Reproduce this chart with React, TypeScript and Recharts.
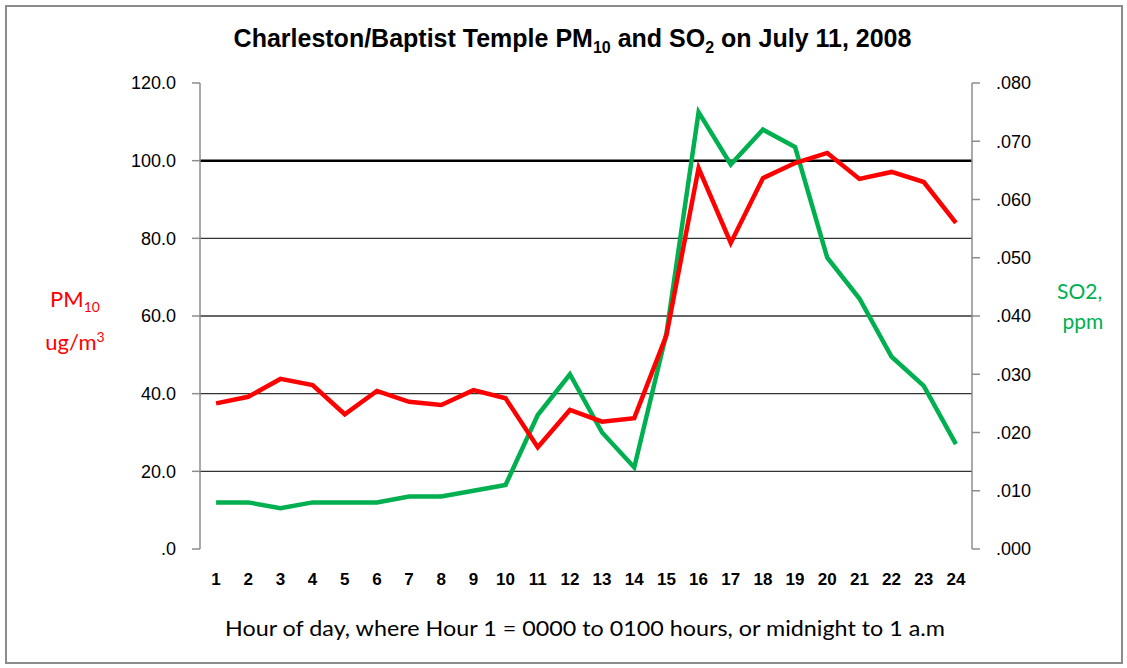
import React from "react";
import { LineChart, Line, XAxis, YAxis, ReferenceLine } from "recharts";

const hours = [1, 2, 3, 4, 5, 6, 7, 8, 9, 10, 11, 12, 13, 14, 15, 16, 17, 18, 19, 20, 21, 22, 23, 24];
const pm10 = [37.5, 39.2, 43.8, 42.2, 34.7, 40.7, 37.9, 37.1, 40.9, 38.8, 26.2, 35.8, 32.8, 33.7, 55.0, 98.1, 78.8, 95.5, 99.4, 102.0, 95.3, 97.1, 94.5, 84.0];
const so2 = [0.008, 0.008, 0.007, 0.008, 0.008, 0.008, 0.009, 0.009, 0.010, 0.011, 0.023, 0.030, 0.020, 0.014, 0.037, 0.075, 0.066, 0.072, 0.069, 0.050, 0.043, 0.033, 0.028, 0.018];
const pmTicks = [0, 20, 40, 60, 80, 100, 120];
const so2Ticks = [0, 0.01, 0.02, 0.03, 0.04, 0.05, 0.06, 0.07, 0.08];
const gridValues = [20, 40, 60, 80];
const boundaries = [0.5, 1.5, 2.5, 3.5, 4.5, 5.5, 6.5, 7.5, 8.5, 9.5, 10.5, 11.5, 12.5, 13.5, 14.5, 15.5, 16.5, 17.5, 18.5, 19.5, 20.5, 21.5, 22.5, 23.5, 24.5];

const data = hours.map((h, i) => ({ hour: h, pm10: pm10[i], so2: so2[i] }));

const fmtPm = (v: number) => v.toFixed(1).replace(/^0\./, ".");
const fmtSo2 = (v: number) => v.toFixed(3).replace(/^0\./, ".");

const tickFont = { fontFamily: "Liberation Sans, Arial, sans-serif", fontSize: 18, fill: "#000" };
const calibri = "Lato, 'Open Sans', sans-serif";

export default function App() {
  return (
    <div style={{ position: "absolute", left: 0, top: 0, width: 1127, height: 668, background: "#fff" }}>
      <div style={{ position: "absolute", left: 5, top: 5, width: 1114, height: 655, border: "2px solid #8c8c8c" }} />
      <div style={{ position: "absolute", left: 0, top: 0 }}>
        <LineChart width={1127} height={668} data={data} margin={{ top: 83, right: 0, bottom: 0, left: 0 }}>
          <XAxis
            xAxisId="b"
            type="number"
            dataKey="hour"
            domain={[0.5, 24.5]}
            ticks={boundaries}
            height={0}
            tick={false}
            tickSize={7}
            stroke="#8c8c8c"
            strokeWidth={1.5}
          />
          <XAxis
            xAxisId="h"
            type="number"
            dataKey="hour"
            domain={[0.5, 24.5]}
            ticks={hours}
            interval={0}
            height={119}
            axisLine={false}
            tickLine={false}
            tickSize={0}
            tickMargin={24}
            tick={{ ...tickFont, fontWeight: "bold", fontSize: 17 }}
          />
          <YAxis
            yAxisId="pm"
            orientation="left"
            width={200}
            domain={[0, 120]}
            ticks={pmTicks}
            tickFormatter={fmtPm}
            tickSize={8}
            tickMargin={16}
            stroke="#8c8c8c"
            strokeWidth={1.5}
            tick={tickFont}
          />
          <YAxis
            yAxisId="so2"
            orientation="right"
            width={155}
            domain={[0, 0.08]}
            ticks={so2Ticks}
            tickFormatter={fmtSo2}
            tickSize={8}
            tickMargin={16}
            stroke="#8c8c8c"
            strokeWidth={1.5}
            tick={{ ...tickFont, textAnchor: "start" }}
          />
          {gridValues.map((g) => (
            <ReferenceLine key={g} xAxisId="h" yAxisId="pm" y={g} stroke="#333" strokeWidth={1.4} />
          ))}
          <ReferenceLine xAxisId="h" yAxisId="pm" y={100} stroke="#000" strokeWidth={2.5} />
          <Line xAxisId="h" yAxisId="so2" type="linear" dataKey="so2" stroke="#00B050" strokeWidth={4.5} dot={false} isAnimationActive={false} />
          <Line xAxisId="h" yAxisId="pm" type="linear" dataKey="pm10" stroke="#FF0000" strokeWidth={4.5} dot={false} isAnimationActive={false} />
        </LineChart>
      </div>
      <div
        style={{
          position: "absolute",
          left: 0,
          width: 1145,
          top: 24,
          textAlign: "center",
          fontFamily: "Liberation Sans, Arial, sans-serif",
          fontWeight: "bold",
          fontSize: 25,
          color: "#000",
          whiteSpace: "nowrap",
        }}
      >
        Charleston/Baptist Temple PM<sub style={{ fontSize: 16 }}>10</sub> and SO<sub style={{ fontSize: 16 }}>2</sub> on July 11, 2008
      </div>
      <div
        style={{
          position: "absolute",
          left: 0,
          width: 1170,
          top: 614,
          textAlign: "center",
          fontFamily: calibri,
          fontSize: 22,
          color: "#000",
          whiteSpace: "nowrap",
          transform: "scaleX(1.06)",
          transformOrigin: "585px 0",
        }}
      >
        Hour of day, where Hour 1 = 0000 to 0100 hours, or midnight to 1 a.m
      </div>
      <div
        style={{
          position: "absolute",
          left: 20,
          width: 110,
          top: 284,
          textAlign: "center",
          fontFamily: calibri,
          fontSize: 22,
          lineHeight: "30px",
          color: "#FF0000",
        }}
      >
        PM<sub style={{ fontSize: 14 }}>10</sub>
        <br />
        ug/m<sup style={{ fontSize: 14 }}>3</sup>
      </div>
      <div
        style={{
          position: "absolute",
          left: 1057,
          width: 100,
          top: 276,
          textAlign: "left",
          fontFamily: calibri,
          fontSize: 21,
          lineHeight: "30px",
          color: "#00B050",
        }}
      >
        SO2,
        <br />
        &nbsp;ppm
      </div>
    </div>
  );
}
